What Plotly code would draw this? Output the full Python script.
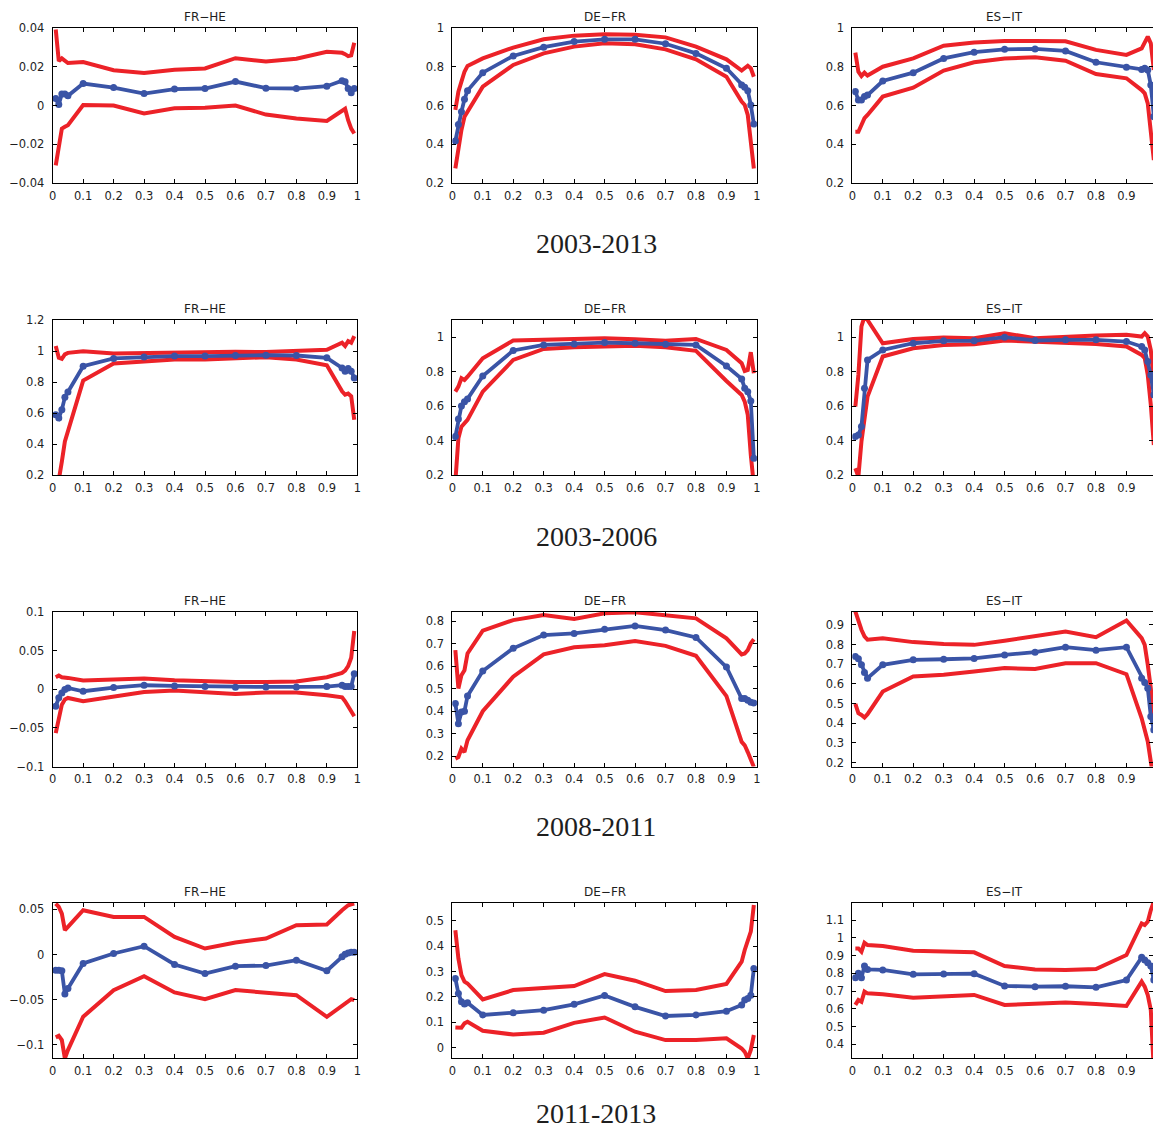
import plotly.graph_objects as go

# ---------------- data ----------------
q = [0.01, 0.02, 0.03, 0.04, 0.05, 0.1, 0.2, 0.3, 0.4, 0.5, 0.6, 0.7, 0.8, 0.9,
     0.95, 0.96, 0.97, 0.98, 0.99]

pair_names = ["FR−HE", "DE−FR", "ES−IT"]
period_labels = ["2003-2013", "2003-2006", "2008-2011", "2011-2013"]

# 2003-2013
frhe_0313_med = [0.0036, 0.0005, 0.006, 0.006, 0.005, 0.0114, 0.0093, 0.0062, 0.0085, 0.0088, 0.0124, 0.009, 0.0088, 0.010, 0.0128, 0.0123, 0.0088, 0.0066, 0.0088]
frhe_0313_up = [0.0394, 0.023, 0.0244, 0.023, 0.022, 0.0225, 0.0183, 0.0169, 0.0185, 0.0192, 0.0245, 0.0228, 0.0242, 0.0278, 0.0273, 0.0266, 0.0256, 0.026, 0.0325]
frhe_0313_lo = [-0.031, -0.0214, -0.012, -0.011, -0.0102, 0.0002, 0.0, -0.0041, -0.0014, -0.0012, 0.0, -0.0047, -0.0067, -0.008, -0.0024, -0.0017, -0.0076, -0.012, -0.0145]

defr_0313_med = [0.416, 0.502, 0.568, 0.632, 0.677, 0.770, 0.857, 0.902, 0.931, 0.943, 0.943, 0.920, 0.870, 0.793, 0.706, 0.694, 0.677, 0.603, 0.504]
defr_0313_up = [0.577, 0.672, 0.724, 0.775, 0.805, 0.844, 0.900, 0.943, 0.962, 0.969, 0.967, 0.953, 0.905, 0.839, 0.781, 0.793, 0.806, 0.793, 0.749]
defr_0313_lo = [0.274, 0.387, 0.473, 0.542, 0.568, 0.698, 0.810, 0.870, 0.905, 0.922, 0.917, 0.891, 0.839, 0.749, 0.620, 0.603, 0.551, 0.404, 0.274]

esit_0313_med = [0.672, 0.629, 0.629, 0.646, 0.654, 0.727, 0.770, 0.844, 0.876, 0.891, 0.893, 0.883, 0.824, 0.798, 0.787, 0.793, 0.784, 0.706, 0.542]
esit_0313_up = [0.874, 0.775, 0.753, 0.770, 0.755, 0.801, 0.844, 0.910, 0.927, 0.934, 0.934, 0.933, 0.888, 0.862, 0.896, 0.931, 0.957, 0.922, 0.784]
esit_0313_lo = [0.464, 0.464, 0.499, 0.534, 0.551, 0.646, 0.692, 0.781, 0.824, 0.844, 0.850, 0.832, 0.763, 0.741, 0.680, 0.663, 0.611, 0.473, 0.317]

# 2003-2006
frhe_0306_med = [0.589, 0.567, 0.621, 0.701, 0.736, 0.902, 0.952, 0.962, 0.967, 0.967, 0.971, 0.973, 0.971, 0.956, 0.891, 0.870, 0.887, 0.870, 0.826]
frhe_0306_up = [1.032, 0.956, 0.949, 0.978, 0.988, 0.999, 0.984, 0.988, 0.988, 0.990, 0.995, 0.993, 0.999, 1.008, 1.053, 1.032, 1.064, 1.053, 1.096]
frhe_0306_lo = [0.05, 0.19, 0.286, 0.416, 0.481, 0.809, 0.919, 0.934, 0.945, 0.945, 0.952, 0.960, 0.945, 0.908, 0.740, 0.718, 0.725, 0.708, 0.556]

defr_0306_med = [0.423, 0.525, 0.601, 0.626, 0.642, 0.775, 0.923, 0.955, 0.961, 0.969, 0.965, 0.959, 0.955, 0.833, 0.758, 0.704, 0.684, 0.630, 0.297]
defr_0306_up = [0.684, 0.713, 0.762, 0.752, 0.771, 0.878, 0.981, 0.985, 0.988, 0.994, 0.988, 0.979, 0.990, 0.926, 0.849, 0.804, 0.810, 0.913, 0.791]
defr_0306_lo = [0.16, 0.413, 0.481, 0.500, 0.520, 0.684, 0.868, 0.932, 0.942, 0.946, 0.950, 0.942, 0.921, 0.746, 0.665, 0.626, 0.549, 0.316, 0.14]

esit_0306_med = [0.423, 0.432, 0.481, 0.704, 0.868, 0.926, 0.965, 0.979, 0.979, 1.000, 0.981, 0.985, 0.985, 0.975, 0.946, 0.926, 0.859, 0.781, 0.665]
esit_0306_up = [0.597, 0.781, 1.062, 1.12, 1.10, 0.965, 0.990, 0.998, 0.994, 1.023, 0.994, 1.004, 1.010, 1.014, 1.004, 1.023, 1.004, 0.926, 0.742]
esit_0306_lo = [0.239, 0.19, 0.394, 0.549, 0.655, 0.888, 0.936, 0.955, 0.959, 0.981, 0.975, 0.971, 0.961, 0.946, 0.897, 0.878, 0.781, 0.607, 0.374]

# 2008-2011
frhe_0811_med = [-0.022, -0.011, -0.0048, -0.0004, 0.0017, -0.0026, 0.0022, 0.0052, 0.0043, 0.0035, 0.0026, 0.003, 0.003, 0.0035, 0.0052, 0.0035, 0.0035, 0.0035, 0.020]
frhe_0811_up = [0.0156, 0.0177, 0.0156, 0.0147, 0.0147, 0.0113, 0.0126, 0.0139, 0.0117, 0.0100, 0.0095, 0.0095, 0.0100, 0.0156, 0.0212, 0.0242, 0.030, 0.0407, 0.0753]
frhe_0811_lo = [-0.0567, -0.035, -0.020, -0.0134, -0.0113, -0.0156, -0.0091, -0.0035, -0.0017, -0.0035, -0.0061, -0.0043, -0.0043, -0.0078, -0.0104, -0.0156, -0.022, -0.0286, -0.035]

defr_0811_med = [0.434, 0.345, 0.397, 0.400, 0.468, 0.578, 0.679, 0.738, 0.745, 0.763, 0.778, 0.760, 0.727, 0.596, 0.456, 0.456, 0.449, 0.440, 0.437]
defr_0811_up = [0.671, 0.501, 0.560, 0.582, 0.656, 0.757, 0.804, 0.827, 0.809, 0.834, 0.839, 0.827, 0.812, 0.723, 0.652, 0.656, 0.671, 0.701, 0.719]
defr_0811_lo = [0.190, 0.197, 0.234, 0.219, 0.271, 0.400, 0.553, 0.652, 0.684, 0.693, 0.711, 0.690, 0.646, 0.467, 0.264, 0.249, 0.219, 0.182, 0.153]

esit_0811_med = [0.739, 0.727, 0.697, 0.658, 0.629, 0.697, 0.722, 0.725, 0.729, 0.747, 0.761, 0.786, 0.771, 0.786, 0.629, 0.607, 0.578, 0.434, 0.366]
esit_0811_up = [0.968, 0.917, 0.875, 0.841, 0.824, 0.832, 0.812, 0.803, 0.798, 0.819, 0.844, 0.866, 0.837, 0.922, 0.832, 0.798, 0.697, 0.578, 0.375]
esit_0811_lo = [0.498, 0.451, 0.442, 0.429, 0.446, 0.561, 0.637, 0.646, 0.663, 0.680, 0.676, 0.705, 0.705, 0.649, 0.425, 0.366, 0.307, 0.205, 0.103]

# 2011-2013
frhe_1113_med = [-0.0173, -0.0173, -0.018, -0.0438, -0.0376, -0.0099, 0.0011, 0.0092, -0.011, -0.021, -0.0129, -0.0122, -0.0063, -0.018, -0.0026, 0.0004, 0.0018, 0.0026, 0.0026]
frhe_1113_up = [0.0564, 0.0527, 0.0453, 0.0269, 0.0306, 0.049, 0.0416, 0.0416, 0.0195, 0.0066, 0.0133, 0.0177, 0.0324, 0.0332, 0.049, 0.0516, 0.0545, 0.0556, 0.0564]
frhe_1113_lo = [-0.0917, -0.090, -0.0947, -0.115, -0.1057, -0.0689, -0.0394, -0.024, -0.042, -0.0494, -0.0394, -0.042, -0.045, -0.0689, -0.056, -0.0534, -0.0512, -0.0494, -0.0505]

defr_1113_med = [0.273, 0.214, 0.181, 0.172, 0.177, 0.129, 0.138, 0.148, 0.171, 0.206, 0.161, 0.125, 0.129, 0.144, 0.168, 0.188, 0.194, 0.207, 0.312]
defr_1113_up = [0.463, 0.352, 0.286, 0.260, 0.253, 0.190, 0.227, 0.236, 0.243, 0.290, 0.264, 0.223, 0.227, 0.251, 0.339, 0.385, 0.417, 0.457, 0.562]
defr_1113_lo = [0.080, 0.079, 0.079, 0.096, 0.102, 0.067, 0.052, 0.059, 0.098, 0.119, 0.063, 0.030, 0.030, 0.037, -0.003, -0.016, -0.042, -0.009, 0.050]

esit_1113_med = [0.775, 0.800, 0.775, 0.841, 0.822, 0.819, 0.794, 0.796, 0.798, 0.729, 0.725, 0.727, 0.721, 0.762, 0.890, 0.875, 0.860, 0.841, 0.762]
esit_1113_up = [0.940, 0.940, 0.922, 0.972, 0.959, 0.954, 0.927, 0.922, 0.918, 0.841, 0.822, 0.819, 0.824, 0.903, 1.081, 1.072, 1.091, 1.156, 1.203]
esit_1113_lo = [0.622, 0.650, 0.640, 0.697, 0.687, 0.682, 0.663, 0.672, 0.678, 0.622, 0.631, 0.635, 0.627, 0.616, 0.753, 0.725, 0.678, 0.593, 0.25]

panels = [
    [(frhe_0313_med, frhe_0313_up, frhe_0313_lo), (defr_0313_med, defr_0313_up, defr_0313_lo), (esit_0313_med, esit_0313_up, esit_0313_lo)],
    [(frhe_0306_med, frhe_0306_up, frhe_0306_lo), (defr_0306_med, defr_0306_up, defr_0306_lo), (esit_0306_med, esit_0306_up, esit_0306_lo)],
    [(frhe_0811_med, frhe_0811_up, frhe_0811_lo), (defr_0811_med, defr_0811_up, defr_0811_lo), (esit_0811_med, esit_0811_up, esit_0811_lo)],
    [(frhe_1113_med, frhe_1113_up, frhe_1113_lo), (defr_1113_med, defr_1113_up, defr_1113_lo), (esit_1113_med, esit_1113_up, esit_1113_lo)],
]

# ---------------- layout / style ----------------
W, H = 1153, 1130
col_px = [(52.7, 357.3), (452.3, 756.9), (852.3, 1153.0)]
col_xmax = [1.0, 1.0, (1153.0 - 852.3) / 304.6]
row_px = [(28.3, 182.7), (320.0, 475.0), (612.0, 766.5), (903.0, 1058.0)]
y_ranges = [
    [(-0.04, 0.04), (0.2, 1.0), (0.2, 1.0)],
    [(0.2, 1.2), (0.2, 1.1), (0.2, 1.1)],
    [(-0.1, 0.1), (0.155, 0.84), (0.18, 0.965)],
    [(-0.1145, 0.057), (-0.0405, 0.57), (0.323, 1.196)],
]
y_dticks = [
    [0.02, 0.2, 0.2],
    [0.2, 0.2, 0.2],
    [0.05, 0.1, 0.1],
    [0.05, 0.1, 0.1],
]

RED = "#ec2228"
BLUE = "#3a54a6"
SANS = "DejaVu Sans, Liberation Sans, Arial, sans-serif"
TICKFONT = dict(family=SANS, size=11.5, color="#1e1e1e")

fig = go.Figure()
layout = dict(
    template="none",
    width=W, height=H, margin=dict(l=0, r=0, t=0, b=0, pad=0, autoexpand=False),
    paper_bgcolor="white", plot_bgcolor="white", showlegend=False,
)
annotations = []

k = 0
for r in range(4):
    for c in range(3):
        k += 1
        xa = "x" if k == 1 else f"x{k}"
        ya = "y" if k == 1 else f"y{k}"
        med, up, lo = panels[r][c]
        fig.add_trace(go.Scatter(x=q, y=up, mode="lines", xaxis=xa, yaxis=ya,
                                 line=dict(color=RED, width=4), hoverinfo="skip"))
        fig.add_trace(go.Scatter(x=q, y=lo, mode="lines", xaxis=xa, yaxis=ya,
                                 line=dict(color=RED, width=4), hoverinfo="skip"))
        fig.add_trace(go.Scatter(x=q, y=med, mode="lines+markers", xaxis=xa, yaxis=ya,
                                 line=dict(color=BLUE, width=3.8),
                                 marker=dict(color=BLUE, size=7, line=dict(width=0))))
        x0, x1 = col_px[c]
        t0, t1 = row_px[r]
        xkey = "xaxis" if k == 1 else f"xaxis{k}"
        ykey = "yaxis" if k == 1 else f"yaxis{k}"
        xticks = [i / 10 for i in range(11)] if c < 2 else [i / 10 for i in range(10)]
        layout[xkey] = dict(
            domain=[x0 / W, x1 / W], range=[0, col_xmax[c]], anchor=ya,
            tickvals=xticks, ticktext=[f"{v:g}" for v in xticks],
            ticks="inside", ticklen=4, tickwidth=1, tickcolor="black",
            showline=True, linecolor="black", linewidth=1, mirror="ticks",
            showgrid=False, zeroline=False, tickfont=TICKFONT, automargin=False,
            ticklabelstandoff=2, fixedrange=True,
        )
        ylo, yhi = y_ranges[r][c]
        layout[ykey] = dict(
            domain=[1 - t1 / H, 1 - t0 / H], range=[ylo, yhi], anchor=xa,
            tick0=0, dtick=y_dticks[r][c],
            ticks="inside", ticklen=4, tickwidth=1, tickcolor="black",
            showline=True, linecolor="black", linewidth=1, mirror="ticks",
            showgrid=False, zeroline=False, tickfont=TICKFONT, automargin=False,
            ticklabelstandoff=5, fixedrange=True,
        )
        # panel title
        cx = (x0 + x0 + 304.6) / 2
        annotations.append(dict(
            text=pair_names[c], xref="paper", yref="paper",
            x=cx / W, y=1 - (t0 - 11) / H, xanchor="center", yanchor="middle",
            showarrow=False,
            font=dict(family=SANS, size=12, color="#1e1e1e"),
        ))

section_y = [243, 536, 826, 1113]
for r in range(4):
    annotations.append(dict(
        text=period_labels[r], xref="paper", yref="paper",
        x=596 / W, y=1 - section_y[r] / H, xanchor="center", yanchor="middle",
        height=26, valign="middle",
        showarrow=False,
        font=dict(family="Liberation Serif, DejaVu Serif, serif", size=28, color="#1e1e1e"),
    ))

layout["annotations"] = annotations
fig.update_layout(**layout)

pin_script = (
    "document.documentElement.style.margin='0';"
    "document.documentElement.style.overflow='hidden';"
    "document.body.style.margin='0';"
    "document.body.style.overflow='hidden';"
    "var gd=document.getElementsByClassName('plotly-graph-div')[0];"
    "gd.style.position='fixed';gd.style.left='0px';gd.style.top='0px';"
)
fig.write_html("out.html", config={"displayModeBar": False}, post_script=pin_script)
